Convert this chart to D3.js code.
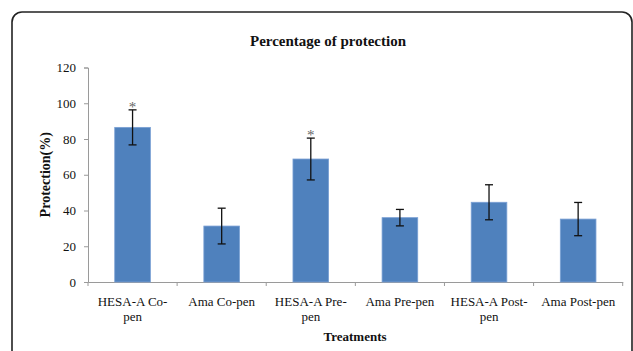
<!DOCTYPE html>
<html><head><meta charset="utf-8">
<script src="https://cdn.jsdelivr.net/npm/d3@7/dist/d3.min.js"></script>
<style>body{margin:0;background:#fff}svg{display:block}text{font-family:"Liberation Serif","Times New Roman",serif}</style>
</head><body>
<script>
const categories = ["HESA-A Co-pen","Ama Co-pen","HESA-A Pre-pen","Ama Pre-pen","HESA-A Post-pen","Ama Post-pen"];
const labelLines = [["HESA-A Co-","pen"],["Ama Co-pen"],["HESA-A Pre-","pen"],["Ama Pre-pen"],["HESA-A Post-","pen"],["Ama Post-pen"]];
const values = [86.5, 31.3, 68.8, 36.0, 44.6, 35.2];
const errors = [9.8, 10.0, 11.7, 4.6, 9.8, 9.3];
const significant = [true, false, true, false, false, false];
const yTicks = [0,20,40,60,80,100,120];

(function(){
const W = 633, H = 351;
const svg = d3.select("body").append("svg").attr("width", W).attr("height", H);

svg.append("rect").attr("x",12).attr("y",12).attr("width",620).attr("height",400)
  .attr("rx",10).attr("fill","#fff").attr("stroke","#222").attr("stroke-width",1.6);

const pl = 88, pr = 622.7, pt = 67.5, pb = 282;
const x = d3.scaleBand().domain(categories).range([pl, pr]).paddingInner(0.6).paddingOuter(0.3);
const y = d3.scaleLinear().domain([0,120]).range([pb, pt]);

const yAxis = svg.append("g").attr("transform",`translate(${pl},0)`)
  .call(d3.axisLeft(y).tickValues(yTicks).tickSize(4).tickPadding(8));
yAxis.attr("font-family",null);
yAxis.select(".domain").attr("stroke","#9a9a9a");
yAxis.selectAll(".tick line").attr("stroke","#9a9a9a");
yAxis.selectAll(".tick text").attr("font-size",13).attr("fill","#111");

const xAxis = svg.append("g").attr("transform",`translate(0,${pb})`)
  .call(d3.axisBottom(x).tickSize(0).tickFormat(""));
xAxis.select(".domain").attr("stroke","#9a9a9a");
const bounds = d3.range(categories.length+1).map(i => pl + i*(pr-pl)/categories.length);
svg.append("g").selectAll("line").data(bounds).join("line")
  .attr("x1",d=>d).attr("x2",d=>d).attr("y1",pb).attr("y2",pb+4).attr("stroke","#9a9a9a");

svg.append("g").selectAll("rect").data(values).join("rect")
  .attr("x",(d,i)=>x(categories[i])).attr("width",x.bandwidth())
  .attr("y",d=>y(d)).attr("height",d=>pb - y(d))
  .attr("fill","#4f81bd").attr("stroke","#7aa0d4").attr("stroke-width",0.8);

const eg = svg.append("g").attr("stroke","#111").attr("stroke-width",1.3);
values.forEach((v,i)=>{
  const cx = x(categories[i]) + x.bandwidth()/2;
  const y1 = y(v+errors[i]), y2 = y(v-errors[i]);
  eg.append("line").attr("x1",cx).attr("x2",cx).attr("y1",y1).attr("y2",y2);
  eg.append("line").attr("x1",cx-4).attr("x2",cx+4).attr("y1",y1).attr("y2",y1);
  eg.append("line").attr("x1",cx-4).attr("x2",cx+4).attr("y1",y2).attr("y2",y2);
  if (significant[i]) {
    svg.append("text").attr("x",cx).attr("y",y1+2).attr("text-anchor","middle")
      .attr("font-size",15).attr("fill","#666").text("*");
  }
});

labelLines.forEach((lines,i)=>{
  const cx = x(categories[i]) + x.bandwidth()/2;
  const t = svg.append("text").attr("text-anchor","middle").attr("font-size",13).attr("fill","#111");
  lines.forEach((l,j)=>{
    t.append("tspan").attr("x",cx).attr("y",pb+24+j*15).text(l);
  });
});

svg.append("text").attr("x",328).attr("y",46).attr("text-anchor","middle")
  .attr("font-size",15).attr("font-weight","bold").attr("fill","#111").text("Percentage of protection");
svg.append("text").attr("x",355).attr("y",341).attr("text-anchor","middle")
  .attr("font-size",13).attr("font-weight","bold").attr("fill","#111").text("Treatments");
svg.append("text").attr("transform",`translate(50,${(pt+pb)/2}) rotate(-90)`).attr("text-anchor","middle")
  .attr("font-size",14).attr("font-weight","bold").attr("fill","#111").text("Protection(%)");
})();
</script>
</body></html>
